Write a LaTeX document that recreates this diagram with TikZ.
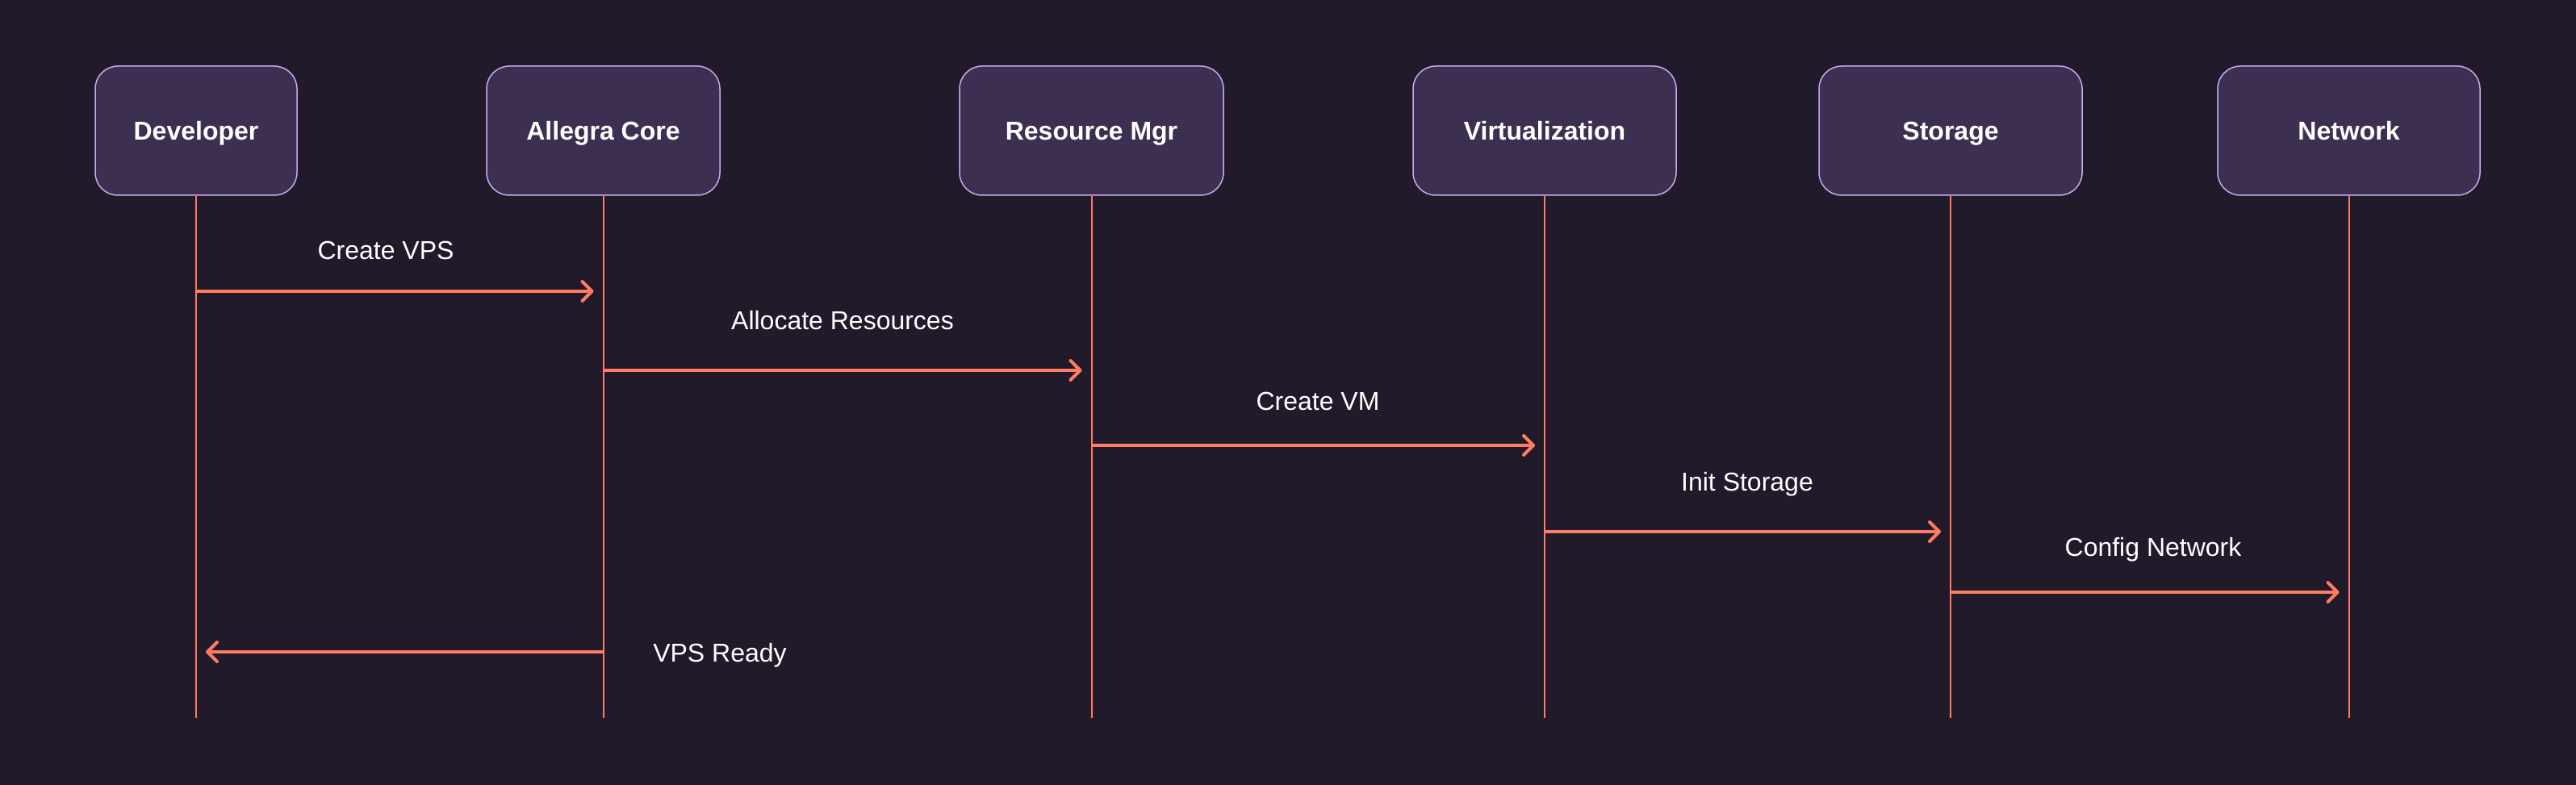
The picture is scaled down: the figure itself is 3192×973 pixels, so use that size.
\documentclass[tikz,border=0pt]{standalone}
\usepackage{fontspec}
\setmainfont{Liberation Sans}
\usetikzlibrary{arrows.meta}

\definecolor{bgcol}{HTML}{211A2B}
\definecolor{boxfill}{HTML}{3D2F52}
\definecolor{boxline}{HTML}{C9A9EE}
\definecolor{coral}{HTML}{FF7B62}

\begin{document}
\begin{tikzpicture}[x = 1pt, y = -1pt, > = {Straight Barb[length = 12pt, width = 24pt, round]},
	actor/.style = {draw = boxline, line width = 1.5pt, fill = boxfill, rounded corners = 28pt,
		minimum height = 160pt, inner sep = 0pt, text height = 23pt, text depth = 0pt,
		text = white, font = \fontsize{32}{38}\selectfont\bfseries},
	lifeline/.style = {coral, line width = 2pt},
	msg/.style = {coral, line width = 4pt, ->, shorten > = 12pt},
	msglabel/.style = {anchor = base, inner sep = 0pt, text = white, font = \fontsize{32}{38}\selectfont}]

	% Definitions

	\def\Ymid{162}		% Centre line of the actor boxes
	\def\Yend{890}		% End of the lifelines

	% Background

	\fill [bgcol] (0, 0) rectangle (3192, 973);
	\useasboundingbox (0, 0) rectangle (3192, 973);

	% Actors + lifelines

	\foreach \name/\x/\w/\txt in {dev/243/250/Developer, core/747.5/289/Allegra Core,
		res/1352.5/327/Resource Mgr, virt/1914/326/Virtualization,
		stor/2417/326/Storage, net/2910.5/325/Network}
	{
		\node [actor, minimum width = \w pt] (\name) at (\x, \Ymid) {\txt};
		\coordinate (\name-end) at (\x, \Yend);
		\draw [lifeline] (\name) -- (\name-end);
	}

	% Messages + labels

	\foreach \from/\to/\y/\lx/\ly/\txt [count = \i] in {
		dev/core/361/478/322/Create VPS,
		core/res/459/1044/408/Allocate Resources,
		res/virt/552/1633/508/Create VM,
		virt/stor/659/2165/608/Init Storage,
		stor/net/734/2668/689/Config Network,
		core/dev/808/892/820/VPS Ready}
	{
		\draw [msg] (\from |- 0,\y) -- (\to |- 0,\y);
		\node [msglabel] (label\i) at (\lx, \ly) {\txt};
	}

\end{tikzpicture}
\end{document}
